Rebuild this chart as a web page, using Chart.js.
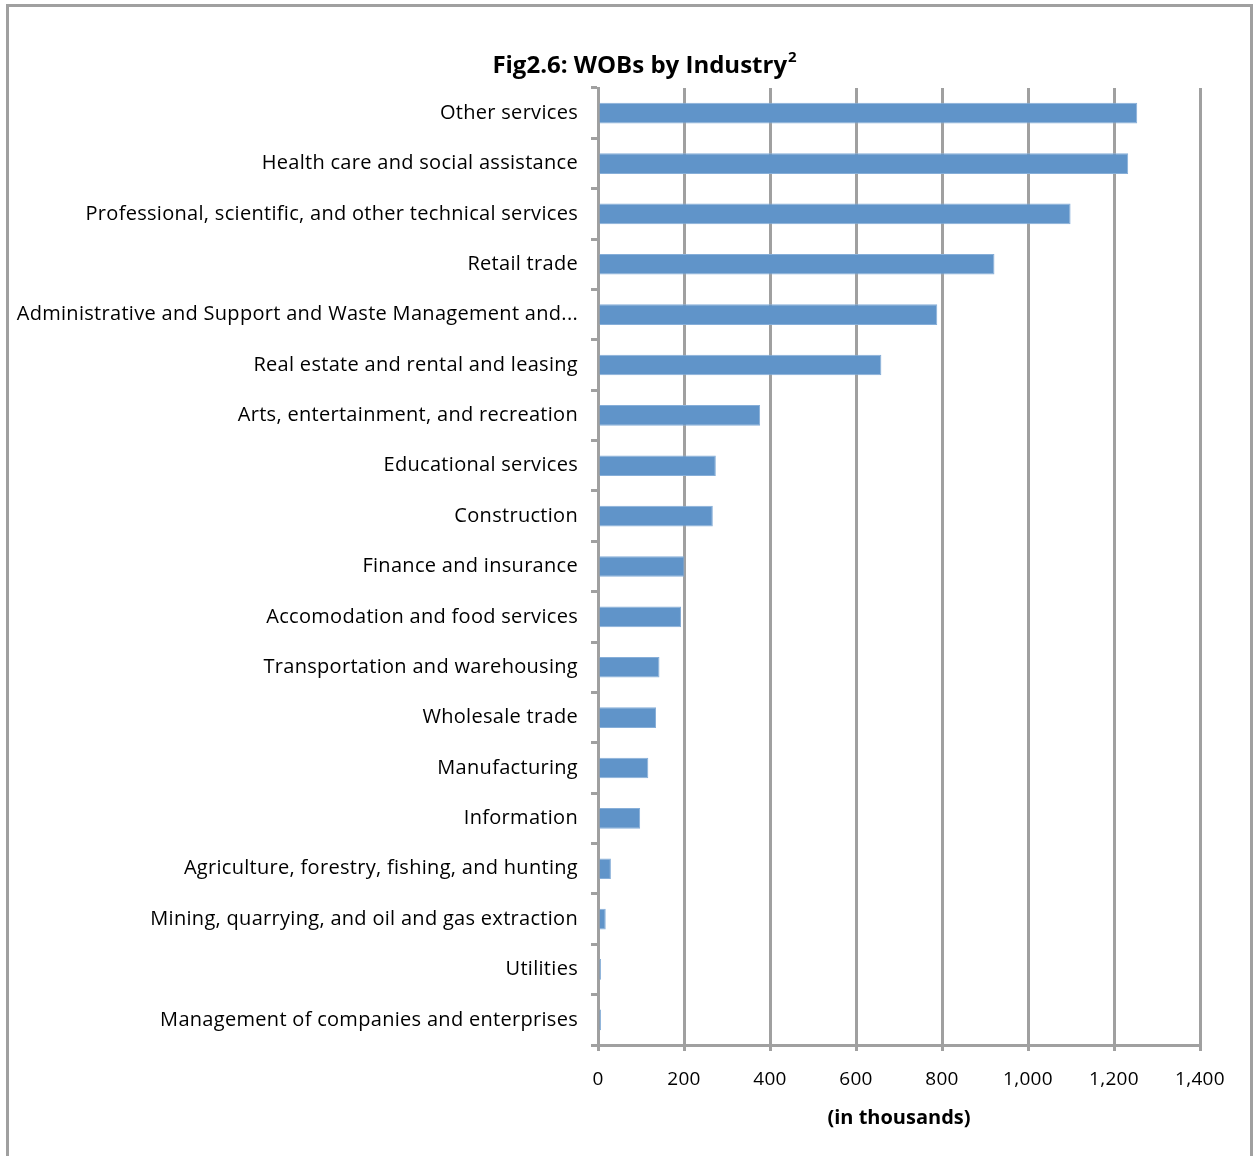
<!DOCTYPE html>
<html>
<head>
<meta charset="utf-8">
<script src="https://cdn.jsdelivr.net/npm/chart.js@4"></script>
<style>
html,body{margin:0;padding:0;background:#fff;}
#wrap{position:relative;width:1254px;height:1156px;}
</style>
</head>
<body>
<div id="wrap"><canvas id="c" width="1254" height="1156"></canvas></div>
<script>
const categories = [
  "Other services",
  "Health care and social assistance",
  "Professional, scientific, and other technical services",
  "Retail trade",
  "Administrative and Support and Waste Management and...",
  "Real estate and rental and leasing",
  "Arts, entertainment, and recreation",
  "Educational services",
  "Construction",
  "Finance and insurance",
  "Accomodation and food services",
  "Transportation and warehousing",
  "Wholesale trade",
  "Manufacturing",
  "Information",
  "Agriculture, forestry, fishing, and hunting",
  "Mining, quarrying, and oil and gas extraction",
  "Utilities",
  "Management of companies and enterprises"
];
const wobValues = [1254, 1233, 1099, 922, 789, 659, 377, 274, 267, 201, 193, 143, 135, 117, 98, 30, 18, 7, 7];
const xTickMax = 1400;
const xTickStep = 200;
const chartTitle = "Fig2.6: WOBs by Industry";
const chartTitleSup = "2";
const xAxisTitle = "(in thousands)";

const GRID = '#a0a0a0';
const FONT = "'Open Sans', sans-serif";

const framePlugin = {
  id: 'frame',
  beforeDraw(chart) {
    const ctx = chart.ctx;
    ctx.save();
    ctx.fillStyle = '#fff';
    ctx.fillRect(0, 0, chart.width, chart.height);
    ctx.strokeStyle = '#a0a0a0';
    ctx.lineWidth = 3;
    ctx.beginPath();
    ctx.moveTo(7.5, 1160);
    ctx.lineTo(7.5, 5.5);
    ctx.lineTo(1251.5, 5.5);
    ctx.lineTo(1251.5, 1160);
    ctx.stroke();
    ctx.restore();
    ctx.letterSpacing = '0.3px';
  },
  beforeDatasetsDraw(chart) {
    chart.ctx.letterSpacing = '0px';
  },
  afterDraw(chart) {
    const ctx = chart.ctx;
    ctx.save();
    ctx.letterSpacing = '0px';
    ctx.fillStyle = '#000';
    ctx.textBaseline = 'alphabetic';
    ctx.font = "bold 24px 'Open Sans', sans-serif";
    const w = ctx.measureText(chartTitle).width;
    ctx.font = "bold 15px 'Open Sans', sans-serif";
    const ws = ctx.measureText(chartTitleSup).width;
    const x0 = 644 - (w + ws) / 2;
    ctx.font = "bold 24px 'Open Sans', sans-serif";
    ctx.textAlign = 'left';
    ctx.fillText(chartTitle, x0, 73);
    ctx.font = "bold 15px 'Open Sans', sans-serif";
    ctx.fillText(chartTitleSup, x0 + w + 1, 62);
    const ca = chart.chartArea;
    ctx.font = "bold 20px 'Open Sans', sans-serif";
    ctx.textAlign = 'center';
    ctx.fillText(xAxisTitle, (ca.left + ca.right) / 2, 1124);
    ctx.restore();
  }
};

new Chart(document.getElementById('c'), {
  type: 'bar',
  data: {
    labels: categories,
    datasets: [{
      data: wobValues,
      backgroundColor: '#6094c9',
      borderColor: '#86aed8',
      borderWidth: 1,
      categoryPercentage: 1,
      barPercentage: 0.41
    }]
  },
  options: {
    indexAxis: 'y',
    responsive: false,
    animation: false,
    layout: { padding: { top: 88, right: 54, bottom: 0, left: 0 } },
    plugins: { legend: { display: false }, tooltip: { enabled: false }, title: { display: false } },
    scales: {
      x: {
        min: 0, max: xTickMax,
        ticks: {
          stepSize: xTickStep,
          color: '#000',
          font: { family: FONT, size: 19 },
          padding: 17,
          callback: v => v.toLocaleString('en-US')
        },
        grid: { color: GRID, lineWidth: 3, tickLength: 6, drawTicks: true },
        border: { color: GRID, width: 3 },
        afterFit(scale) { scale.height = 111; }
      },
      y: {
        ticks: {
          color: '#000',
          font: { family: FONT, size: 20 },
          padding: 13,
          autoSkip: false
        },
        grid: { color: GRID, lineWidth: 3, drawOnChartArea: false, tickLength: 7, offset: true },
        border: { color: GRID, width: 3 },
        afterFit(scale) { scale.width = 598; }
      }
    }
  },
  plugins: [framePlugin]
});
</script>
</body>
</html>
